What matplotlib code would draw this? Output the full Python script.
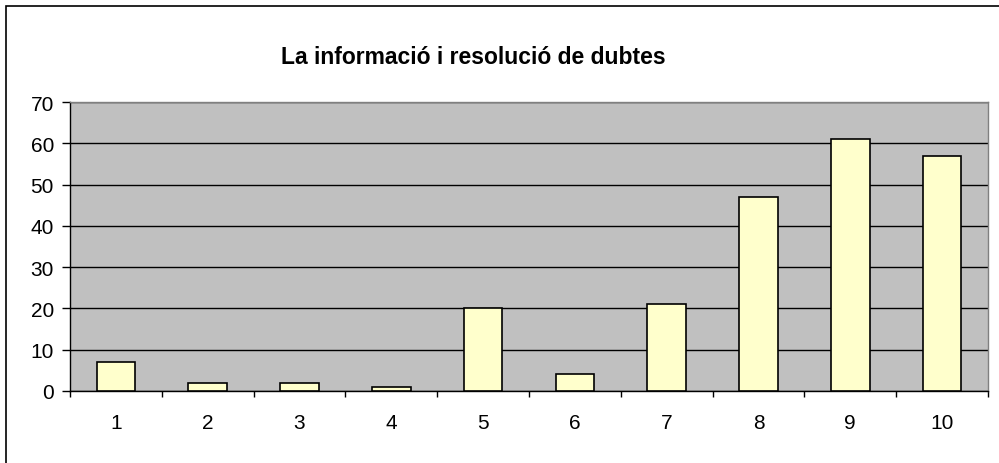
import matplotlib
matplotlib.use("Agg")
import matplotlib.pyplot as plt
from matplotlib.patches import Rectangle
import numpy as np

# answer scale 1-10 and number of responses
categories = ["1", "2", "3", "4", "5", "6", "7", "8", "9", "10"]
responses = [7, 2, 2, 1, 20, 4, 21, 47, 61, 57]
title = "La informació i resolució de dubtes"

plt.rcParams['font.family'] = ['Liberation Sans', 'DejaVu Sans']

fig = plt.figure(figsize=(9.99, 4.64), dpi=100)

# outer chart border (right and bottom edges fall outside the picture)
fig.patches.append(Rectangle((6 / 999, -0.1), 1.1, (464 - 7) / 464 + 0.1,
                             transform=fig.transFigure, fill=False,
                             edgecolor='black', linewidth=1.2))

ax = fig.add_axes([70 / 999, 1 - 392 / 464, 918 / 999, 289 / 464])
ax.set_facecolor('#C0C0C0')

x = np.arange(1, len(categories) + 1)
ax.bar(x, responses, width=0.42, color='#FFFFCC', edgecolor='black',
       linewidth=1.2, zorder=3)

ax.set_xlim(0.5, len(categories) + 0.5)
ax.set_ylim(0, 70)
ax.set_yticks(range(0, 71, 10))
ax.yaxis.grid(True, color='black', linewidth=1.0, zorder=1)
ax.set_axisbelow(True)

# ticks at category boundaries, labels in the middle
ax.set_xticks(np.arange(0.5, len(categories) + 1, 1.0))
ax.set_xticklabels([])
ax.set_xticks(x, minor=True)
ax.set_xticklabels(categories, minor=True)
ax.tick_params(axis='x', which='major', direction='out', length=4.5,
               width=1, color='black')
ax.tick_params(axis='x', which='minor', length=0, pad=15.5, labelsize=15)
ax.tick_params(axis='y', direction='out', length=5.5, width=1, pad=6,
               labelsize=15)

ax.spines['left'].set_color('black')
ax.spines['bottom'].set_color('black')
ax.spines['top'].set_color('#808080')
ax.spines['right'].set_color('#808080')
for s in ax.spines.values():
    s.set_linewidth(1.0)

fig.text(473 / 999, 1 - 58 / 464, title, ha='center', va='center',
         fontsize=16.5, fontweight='bold')

fig.savefig('out.png', dpi=100)
